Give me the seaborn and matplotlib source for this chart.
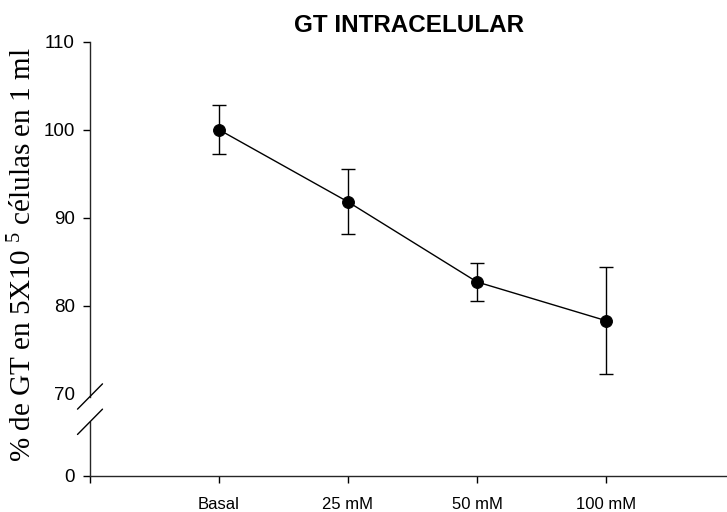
import numpy as np
import pandas as pd
import matplotlib
matplotlib.use("Agg")
import matplotlib.pyplot as plt
from matplotlib.lines import Line2D
import seaborn as sns

# ---- data ----
categories = ["Basal", "25 mM", "50 mM", "100 mM"]
means = [100.0, 91.8, 82.7, 78.3]
errors = [2.8, 3.7, 2.2, 6.1]
top_yticks = [70, 80, 90, 100, 110]
bottom_yticks = [0]
title = "GT INTRACELULAR"
ylabel = "% de GT en 5X10 $^{5}$ células en 1 ml"

sns.set_style("ticks")
plt.rcParams["font.family"] = ["Liberation Sans", "DejaVu Sans"]
plt.rcParams["mathtext.fontset"] = "custom"
plt.rcParams["mathtext.rm"] = "Liberation Serif"
plt.rcParams["mathtext.it"] = "Liberation Serif:italic"
plt.rcParams["mathtext.bf"] = "Liberation Serif:bold"

W, H = 727, 512
fig = plt.figure(figsize=(W / 100, H / 100), dpi=100)

left = 90 / W
width = 637 / W
top_ax_top = 1 - 41.7 / H
top_ax_bot = 1 - 396.5 / H
bot_ax_top = 1 - 421.8 / H
bot_ax_bot = 1 - 476 / H

ax = fig.add_axes([left, top_ax_bot, width, top_ax_top - top_ax_bot])
axb = fig.add_axes([left, bot_ax_bot, width, bot_ax_top - bot_ax_bot])

px_per_unit = 8.8
xpos = np.arange(1, len(categories) + 1)
df = pd.DataFrame({"x": xpos, "y": means, "err": errors, "cat": categories})

ax.errorbar(df["x"], df["y"], yerr=df["err"], fmt="none", ecolor="black",
            elinewidth=1.0, capsize=5, capthick=1.0, zorder=2)
sns.lineplot(data=df, x="x", y="y", ax=ax, color="black", linewidth=1.0,
             marker="o", markersize=8.5, markeredgecolor="black",
             markerfacecolor="black", zorder=3)

xmax = (727 - 90) / 129
ax.set_xlim(0, xmax)
axb.set_xlim(0, xmax)
ax.set_ylim(110 - (396.5 - 41.7) / px_per_unit, 110)
axb.set_ylim(0, (476 - 421.8) / px_per_unit)

# top axes styling
ax.set_yticks(top_yticks)
ax.set_yticklabels([str(t) for t in top_yticks])
ax.set_xticks([])
ax.set_xlabel("")
ax.set_ylabel("")
for s in ["top", "right", "bottom"]:
    ax.spines[s].set_visible(False)
ax.spines["left"].set_linewidth(1.0)
ax.tick_params(axis="y", direction="out", length=5, width=1.0, pad=6,
               labelsize=13.5, colors="black")
ax.yaxis.get_major_ticks()[0].tick1line.set_visible(False)

# bottom axes styling
axb.set_yticks(bottom_yticks)
axb.set_yticklabels([str(t) for t in bottom_yticks])
axb.set_xticks(np.arange(0, len(categories) + 1))
axb.set_xticklabels([""] + categories)
for s in ["top", "right"]:
    axb.spines[s].set_visible(False)
axb.spines["left"].set_linewidth(1.0)
axb.spines["bottom"].set_linewidth(1.0)
axb.tick_params(axis="y", direction="out", length=5, width=1.0, pad=6,
                labelsize=13.5, colors="black")
axb.tick_params(axis="x", direction="out", length=5, width=1.0, pad=10,
                labelsize=12, colors="black")
axb.patch.set_alpha(0)
ax.patch.set_alpha(0)

# break marks
dx = 12.5 / W
dy = 12.65 / H
for yc in (top_ax_bot, bot_ax_top):
    fig.add_artist(Line2D([left - dx, left + dx], [yc - dy, yc + dy],
                          transform=fig.transFigure, color="black", linewidth=1.0))

fig.text(left + width / 2, 1 - 26 / H, title, ha="center", va="center",
         fontsize=17.5, fontweight="bold", color="black")
fig.text(23 / W, 1 - 255 / H, ylabel, rotation=90, ha="center", va="center",
         fontsize=21, family=["Liberation Serif", "DejaVu Serif"], color="black")

fig.savefig("out.png", dpi=100)
